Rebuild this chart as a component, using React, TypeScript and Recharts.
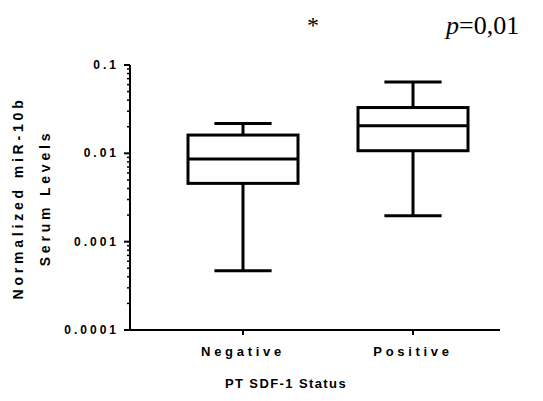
import React from 'react';
import { ComposedChart, Bar, XAxis, YAxis } from 'recharts';

// ---- data ----
const categories = ['Negative', 'Positive'];
const whiskerLow = [0.00047, 0.00197];
const quartile1 = [0.00457, 0.0107];
const medians = [0.0086, 0.0205];
const quartile3 = [0.0161, 0.033];
const whiskerHigh = [0.0218, 0.0643];

const majorTicks = [0.0001, 0.001, 0.01, 0.1];
const majorTickLabels = ['0.0001', '0.001', '0.01', '0.1'];
const minorTicks = [
  0.0002, 0.0003, 0.0004, 0.0005, 0.0006, 0.0007, 0.0008, 0.0009,
  0.002, 0.003, 0.004, 0.005, 0.006, 0.007, 0.008, 0.009,
  0.02, 0.03, 0.04, 0.05, 0.06, 0.07, 0.08, 0.09,
];

const yAxisTitleLines = ['Normalized miR-10b', 'Serum Levels'];
const xAxisTitle = 'PT SDF-1 Status';
const starText = '*';
const pLabel = 'p';
const pValueText = '=0,01';

const data = categories.map((name, i) => ({
  name,
  range: [whiskerLow[i], whiskerHigh[i]],
  low: whiskerLow[i],
  q1: quartile1[i],
  median: medians[i],
  q3: quartile3[i],
  high: whiskerHigh[i],
}));

const allTicks = [...majorTicks, ...minorTicks].sort((a, b) => a - b);

const SANS = '"Liberation Sans", Arial, sans-serif';
const SERIF = '"Liberation Serif", "Times New Roman", serif';
const TICK_SIZE = 6;
const TICK_MARGIN = 8;

const YTick = (props: any) => {
  const { x, y, payload } = props;
  const v = payload.value;
  const idx = majorTicks.findIndex((m) => Math.abs(m - v) / m < 1e-6);
  const major = idx >= 0;
  const axisX = x + TICK_SIZE + TICK_MARGIN;
  return (
    <g>
      <line
        x1={axisX - (major ? TICK_SIZE : 3)}
        x2={axisX}
        y1={y}
        y2={y}
        stroke="#000"
        strokeWidth={major ? 2 : 1.5}
      />
      {major && (
        <text
          x={x + 3}
          y={y}
          textAnchor="end"
          dominantBaseline="central"
          fontFamily={SANS}
          fontWeight="bold"
          fontSize={12}
          letterSpacing={3}
          fill="#000"
        >
          {majorTickLabels[idx]}
        </text>
      )}
    </g>
  );
};

const BoxShape = (props: any) => {
  const { x, y, width, height, payload } = props;
  if (!payload) return null;
  const { low, high, q1, median, q3 } = payload;
  const lh = Math.log10(high);
  const ll = Math.log10(low);
  const yOf = (v: number) => y + (height * (lh - Math.log10(v))) / (lh - ll);
  const cx = x + width / 2;
  const capHalf = width * 0.26;
  const sw = 3;
  return (
    <g>
      <line x1={cx} x2={cx} y1={yOf(high)} y2={yOf(q3)} stroke="#000" strokeWidth={sw} />
      <line x1={cx} x2={cx} y1={yOf(q1)} y2={yOf(low)} stroke="#000" strokeWidth={sw} />
      <line x1={cx - capHalf} x2={cx + capHalf} y1={yOf(high)} y2={yOf(high)} stroke="#000" strokeWidth={sw} />
      <line x1={cx - capHalf} x2={cx + capHalf} y1={yOf(low)} y2={yOf(low)} stroke="#000" strokeWidth={sw} />
      <rect
        x={x}
        y={yOf(q3)}
        width={width}
        height={yOf(q1) - yOf(q3)}
        fill="#fff"
        stroke="#000"
        strokeWidth={sw}
      />
      <line x1={x} x2={x + width} y1={yOf(median)} y2={yOf(median)} stroke="#000" strokeWidth={sw} />
    </g>
  );
};

export default function App() {
  return (
    <ComposedChart
      width={535}
      height={393}
      data={data}
      margin={{ top: 57, right: 43, bottom: 41, left: 62 }}
      style={{ background: '#fff' }}
    >
      <XAxis
        dataKey="name"
        type="category"
        padding={{ left: 28, right: 2 }}
        height={30}
        tickSize={5}
        tickMargin={12}
        axisLine={{ stroke: '#000', strokeWidth: 2 }}
        tickLine={{ stroke: '#000', strokeWidth: 2 }}
        tick={{ fill: '#000', fontFamily: SANS, fontWeight: 'bold', fontSize: 13, letterSpacing: 3.7 }}
      />
      <YAxis
        scale="log"
        type="number"
        domain={[0.0001, 0.1]}
        allowDataOverflow
        ticks={allTicks}
        interval={0}
        width={60}
        tickSize={TICK_SIZE}
        tickMargin={TICK_MARGIN}
        tickLine={false}
        axisLine={{ stroke: '#000', strokeWidth: 2 }}
        tick={<YTick />}
      />
      <Bar dataKey="range" barSize={110} isAnimationActive={false} shape={<BoxShape />} />
      <text
        x={10}
        y={190}
        transform="rotate(-90 10 190)"
        textAnchor="middle"
        dominantBaseline="central"
        fontFamily={SANS}
        fontWeight="bold"
        fontSize={14}
        letterSpacing={3.8}
        fill="#000"
      >
        {yAxisTitleLines[0]}
      </text>
      <text
        x={37}
        y={190}
        transform="rotate(-90 37 190)"
        textAnchor="middle"
        dominantBaseline="central"
        fontFamily={SANS}
        fontWeight="bold"
        fontSize={14}
        letterSpacing={3.8}
        fill="#000"
      >
        {yAxisTitleLines[1]}
      </text>
      <text
        x={278}
        y={380}
        textAnchor="middle"
        fontFamily={SANS}
        fontWeight="bold"
        fontSize={13}
        letterSpacing={1.4}
        fill="#000"
      >
        {xAxisTitle}
      </text>
      <text x={305} y={25} textAnchor="middle" fontFamily={SERIF} fontSize={24} fill="#000">
        {starText}
      </text>
      <text x={438} y={26} fontFamily={SERIF} fontSize={26} fill="#000">
        <tspan fontStyle="italic">{pLabel}</tspan>
        <tspan>{pValueText}</tspan>
      </text>
    </ComposedChart>
  );
}
